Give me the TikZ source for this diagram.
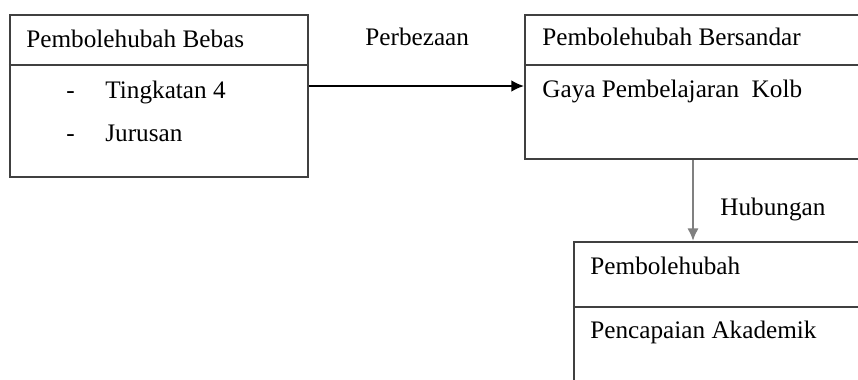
\documentclass[tikz,border=0pt]{standalone}
\usepackage{fontspec}
\setmainfont{Liberation Serif}
\usetikzlibrary{positioning,arrows.meta}

\begin{document}
\begin{tikzpicture}[
    x=0.476pt,
    y=-0.476pt,
    box/.style={
      draw=black!75,
      line width=1pt,
      rectangle,
      inner sep=0pt
      },
    divider/.style={
      draw=black!75,
      line width=1pt
      },
    txt/.style={
      anchor=base west,
      inner sep=0pt,
      font=\fontsize{12}{14}\selectfont
      },
    >={Latex[length=6pt,width=5.5pt]}
    ]
    \useasboundingbox (0,0) rectangle (858,379);
    \clip (0,0) rectangle (858,379);
    % boxes
    \node[box, minimum width={298*0.476pt}, minimum height={162*0.476pt}] (bebas) at (159,96) {};
    \node[box, minimum width={380*0.476pt}, minimum height={144*0.476pt}] (bersandar) at (715,87) {};
    \node[box, minimum width={330*0.476pt}, minimum height={200*0.476pt}] (pencapaian) at (739,342) {};
    \foreach \b in {bebas,bersandar}
      \draw[divider] (\b.west |- 0,65) -- (\b.east |- 0,65);
    \draw[divider] (pencapaian.west |- 0,307) -- (pencapaian.east |- 0,307);
    % texts
    \node[txt] (tbebas) at (26,47) {Pembolehubah Bebas};
    \node[txt] (dash1) at (66,98) {-};
    \node[txt] (tingkatan) at (105,98) {Tingkatan 4};
    \node[txt] (dash2) at (66,141) {-};
    \node[txt] (jurusan) at (105,141) {Jurusan};
    \node[txt] (tbersandar) at (542,45) {Pembolehubah Bersandar};
    \node[txt] (kolb) at (542,97) {Gaya Pembelajaran\ \ Kolb};
    \node[txt] (tpemboleh) at (590,274) {Pembolehubah};
    \node[txt] (akademik) at (590,338) {Pencapaian Akademik};
    \node[txt] (perbezaan) at (365,45) {Perbezaan};
    \node[txt] (hubungan) at (720,215) {Hubungan};
    % connectors
    \draw[->, line width=0.75pt] (bebas.east |- 0,86) -- (bersandar.west |- 0,86);
    \draw[->, line width=1.3pt, black!50] (bersandar.south -| 693,0) -- (pencapaian.north -| 693,0);
\end{tikzpicture}
\end{document}
